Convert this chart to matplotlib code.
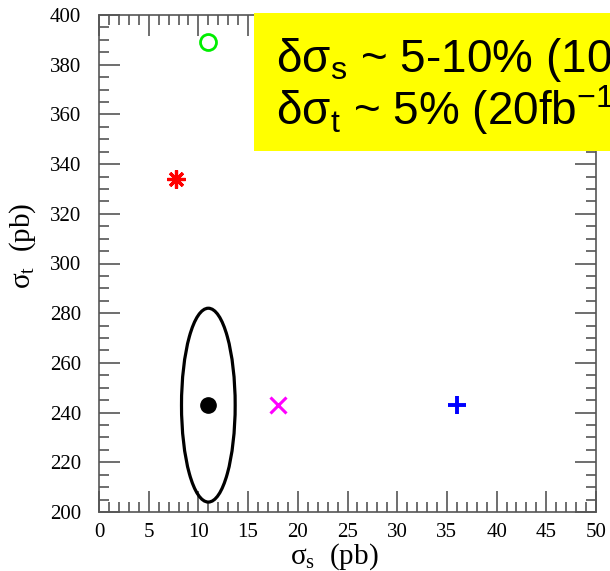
import matplotlib
matplotlib.use("Agg")
import matplotlib.pyplot as plt
from matplotlib.patches import Ellipse, Rectangle
from matplotlib.ticker import MultipleLocator

plt.rcParams['mathtext.fontset'] = 'custom'
plt.rcParams['mathtext.rm'] = 'Liberation Serif'
plt.rcParams['mathtext.sf'] = 'Liberation Sans'

# data
sm_point = (11.0, 243.0)
ellipse_width = 5.4
ellipse_height = 78.0
star_pt = (7.7, 334.0)
circle_pt = (11.0, 389.0)
xmark_pt = (18.0, 243.0)
plus_pt = (36.0, 243.0)
xlim = (0, 50)
ylim = (200, 400)
box_line1 = 'δσ$_\\mathsf{s}$ ~ 5-10% (10'
box_line2 = 'δσ$_\\mathsf{t}$ ~ 5% (20fb$^\\mathsf{-1}$'

fig = plt.figure(figsize=(6.1, 5.71), dpi=100)
ax = fig.add_axes([99/610, 1-512/571, (596-99)/610, (512-15)/571])
ax.set_xlim(*xlim)
ax.set_ylim(*ylim)

ax.add_patch(Ellipse(sm_point, ellipse_width, ellipse_height, fill=False,
                     edgecolor='black', lw=2.3, zorder=3))
ax.plot(*sm_point, 'o', color='black', ms=11, zorder=4)
ax.plot(*star_pt, marker=(8, 2, 0), color='red', ms=13, mew=2.3, ls='none', zorder=4)
ax.plot(*circle_pt, 'o', mfc='none', mec='#00ee00', ms=11.5, mew=2, zorder=4)
ax.plot(*xmark_pt, 'x', color='magenta', ms=12, mew=2.2, zorder=4)
ax.plot(*plus_pt, '+', color='blue', ms=12.5, mew=2.8, zorder=4)

ax.xaxis.set_major_locator(MultipleLocator(5))
ax.xaxis.set_minor_locator(MultipleLocator(1))
ax.yaxis.set_major_locator(MultipleLocator(20))
ax.yaxis.set_minor_locator(MultipleLocator(5))
ax.tick_params(which='both', direction='in', top=True, right=True, color='#555555')
ax.tick_params(which='major', length=15, width=1.2, labelsize=15)
ax.tick_params(axis='y', which='major', pad=13)
ax.tick_params(axis='x', which='major', pad=8)
ax.tick_params(which='minor', length=7.5, width=1.2)
for lab in ax.get_xticklabels() + ax.get_yticklabels():
    lab.set_fontfamily('Liberation Serif')
for s in ax.spines.values():
    s.set_color('#555555')
    s.set_linewidth(1.2)

ax.set_xlabel('σ$_\\mathrm{s}$  (pb)', fontsize=21, fontfamily='Liberation Serif')
ax.set_ylabel('σ$_\\mathrm{t}$  (pb)', fontsize=21, fontfamily='Liberation Serif')
ax.xaxis.set_label_coords((334-99)/497, (512-541)/497)
ax.yaxis.set_label_coords((38-99)/497, (512-246)/497)

# yellow box
fig.patches.append(Rectangle((254/610, 1-151/571), 1.0, (151-13)/571,
                             transform=fig.transFigure, facecolor='#ffff00',
                             edgecolor='none', zorder=5))
fig.text(276/610, 1-72/571, box_line1,
         fontsize=33, fontfamily='Liberation Sans', zorder=6, va='baseline')
fig.text(276/610, 1-125/571, box_line2,
         fontsize=33, fontfamily='Liberation Sans', zorder=6, va='baseline')

fig.savefig('out.png', dpi=100)
